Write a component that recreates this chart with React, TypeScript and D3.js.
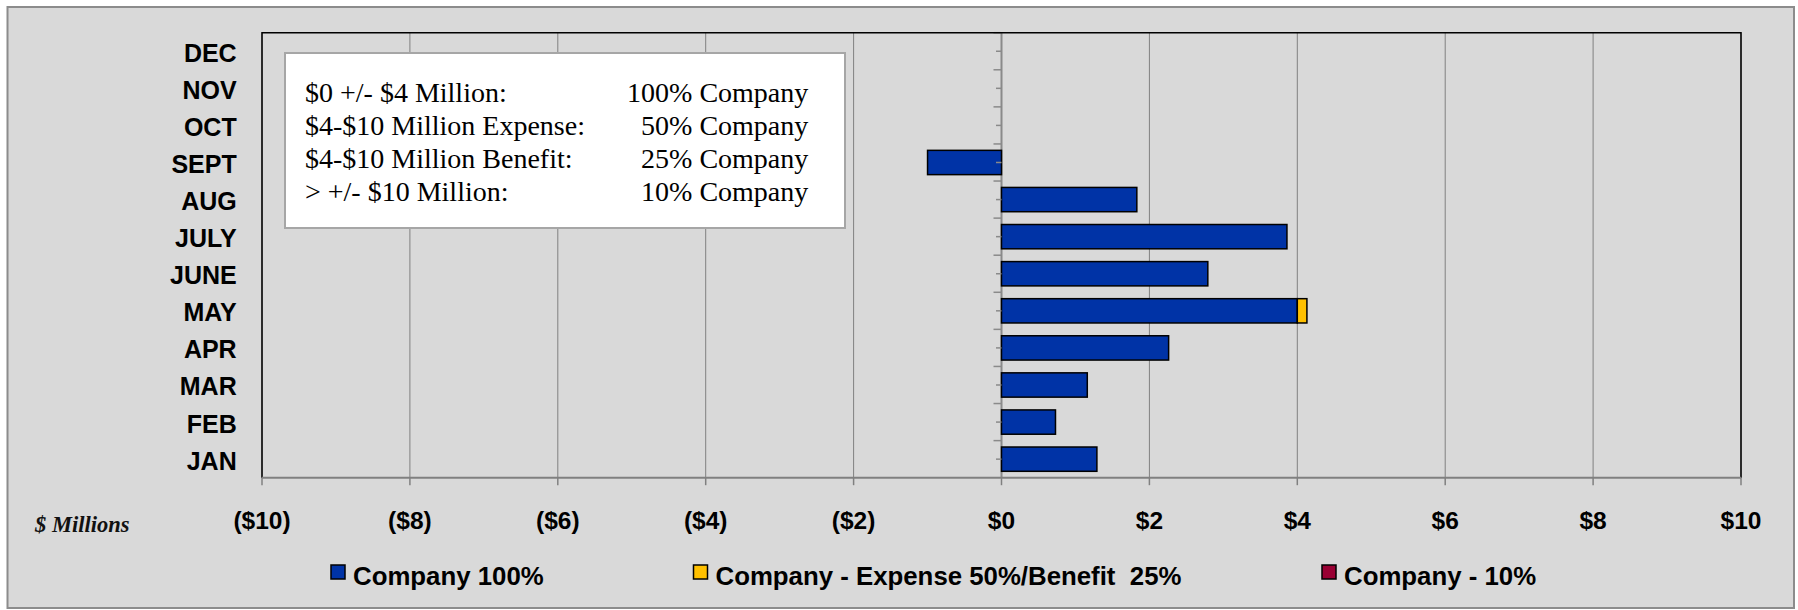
import React from "react";
import * as d3 from "d3";

const months = ["JAN", "FEB", "MAR", "APR", "MAY", "JUNE", "JULY", "AUG", "SEPT", "OCT", "NOV", "DEC"];
const company100 = [1.29, 0.73, 1.16, 2.26, 4.0, 2.79, 3.86, 1.83, -1.0, 0, 0, 0];
const companyExpBen = [0, 0, 0, 0, 0.13, 0, 0, 0, 0, 0, 0, 0];
const company10 = [0, 0, 0, 0, 0, 0, 0, 0, 0, 0, 0, 0];
const seriesNames = ["Company 100%", "Company - Expense 50%/Benefit  25%", "Company - 10%"];
const seriesColors = ["#0033A6", "#FFC000", "#990033"];
const xTicks = [-10, -8, -6, -4, -2, 0, 2, 4, 6, 8, 10];
const ruleLeft = ["$0 +/- $4 Million:", "$4-$10 Million Expense:", "$4-$10 Million Benefit:", "> +/- $10 Million:"];
const ruleRight = ["100% Company", "50% Company", "25% Company", "10% Company"];

const W = 1798, H = 610;
const plot = { left: 262, right: 1741, top: 32.7, bottom: 477.7 };

export default function App() {
  const x = d3.scaleLinear().domain([-10, 10]).range([plot.left, plot.right]);
  const y = d3
    .scaleBand<string>()
    .domain(months.slice().reverse())
    .range([plot.top, plot.bottom])
    .paddingInner(0.345)
    .paddingOuter(0.1725);
  const step = y.step();

  const table = months.map((m, i) => ({ m, s0: company100[i], s1: companyExpBen[i], s2: company10[i] }));
  const stack = d3.stack<any>().keys(["s0", "s1", "s2"]).offset(d3.stackOffsetDiverging);
  const stacked = stack(table);

  const fmt = (v: number) => (v < 0 ? `($${Math.abs(v)})` : `$${v}`);
  const zeroX = x(0);

  const legendX = [331, 693.5, 1322];

  return (
    <svg width={W} height={H} style={{ position: "absolute", left: 0, top: 0 }}>
      <rect x={0} y={0} width={W} height={H} fill="#ffffff" />
      <rect x={7.5} y={7} width={1786.5} height={601} fill="#D9D9D9" stroke="#8C8C8C" strokeWidth={2} />
      {/* gridlines */}
      {xTicks.map((t) => (
        <line key={"g" + t} x1={x(t)} x2={x(t)} y1={plot.top} y2={plot.bottom} stroke="#808080" strokeWidth={1} />
      ))}
      {/* zero category axis line */}
      <line x1={zeroX} x2={zeroX} y1={plot.top} y2={plot.bottom} stroke="#8A8A8A" strokeWidth={2} />
      {/* bars */}
      {stacked.map((layer, li) =>
        layer.map((d: any, i: number) => {
          const x0 = Math.min(x(d[0]), x(d[1]));
          const w = Math.abs(x(d[1]) - x(d[0]));
          if (w < 0.01) return null;
          return (
            <rect
              key={li + "-" + i}
              x={x0}
              y={y(d.data.m)!}
              width={w}
              height={y.bandwidth()}
              fill={seriesColors[li]}
              stroke="#000"
              strokeWidth={1.5}
            />
          );
        })
      )}
      {/* category axis ticks at zero */}
      {months.map((m) => {
        const yb = y(m)! - (step - y.bandwidth()) / 2;
        const yc = y(m)! + y.bandwidth() / 2;
        return (
          <g key={"t" + m}>
            <line x1={zeroX - 8} x2={zeroX} y1={yb} y2={yb} stroke="#8A8A8A" strokeWidth={1.5} />
            <line x1={zeroX - 5.5} x2={zeroX} y1={yc} y2={yc} stroke="#8A8A8A" strokeWidth={1.5} />
          </g>
        );
      })}
      {/* plot border */}
      <path
        d={`M${plot.left},${plot.bottom} V${plot.top} H${plot.right} V${plot.bottom}`}
        fill="none"
        stroke="#000"
        strokeWidth={1.5}
      />
      {/* value axis */}
      <line x1={plot.left} x2={plot.right} y1={plot.bottom} y2={plot.bottom} stroke="#808080" strokeWidth={2} />
      {xTicks.map((t) => (
        <g key={"x" + t}>
          <line x1={x(t)} x2={x(t)} y1={plot.bottom} y2={plot.bottom + 7.5} stroke="#808080" strokeWidth={1.5} />
          <text
            x={x(t)}
            y={529}
            textAnchor="middle"
            fontFamily="'Liberation Sans', Arial, sans-serif"
            fontWeight="bold"
            fontSize={24.5}
            fill="#000"
          >
            {fmt(t)}
          </text>
        </g>
      ))}
      {/* category labels */}
      {months.map((m) => (
        <text
          key={"l" + m}
          x={236.7}
          y={y(m)! + y.bandwidth() / 2 + 10.5}
          textAnchor="end"
          fontFamily="'Liberation Sans', Arial, sans-serif"
          fontWeight="bold"
          fontSize={25}
          fill="#000"
        >
          {m}
        </text>
      ))}
      {/* $ Millions */}
      <text
        x={35}
        y={531.5}
        fontFamily="'Liberation Serif', 'Times New Roman', serif"
        fontStyle="italic"
        fontWeight="bold"
        fontSize={22.5}
        fill="#111"
      >
        $ Millions
      </text>
      {/* rule box */}
      <rect x={285} y={53} width={560} height={175} fill="#ffffff" stroke="#A6A6A6" strokeWidth={2} />
      {ruleLeft.map((t, i) => (
        <text
          key={"rl" + i}
          x={305}
          y={101.5 + i * 33.2}
          fontFamily="'Liberation Serif', 'Times New Roman', serif"
          fontSize={28}
          fill="#000"
        >
          {t}
        </text>
      ))}
      {ruleRight.map((t, i) => (
        <text
          key={"rr" + i}
          x={808.3}
          y={101.5 + i * 33.2}
          textAnchor="end"
          fontFamily="'Liberation Serif', 'Times New Roman', serif"
          fontSize={28}
          fill="#000"
        >
          {t}
        </text>
      ))}
      {/* legend */}
      {seriesNames.map((n, i) => (
        <g key={"lg" + i}>
          <rect x={legendX[i]} y={565} width={14} height={14} fill={seriesColors[i]} stroke="#000" strokeWidth={1.5} />
          <text
            x={legendX[i] + 22}
            y={584.5}
            fontFamily="'Liberation Sans', Arial, sans-serif"
            fontWeight="bold"
            fontSize={25.8}
            fill="#000"
            style={{ whiteSpace: "pre" }}
          >
            {n}
          </text>
        </g>
      ))}
    </svg>
  );
}
